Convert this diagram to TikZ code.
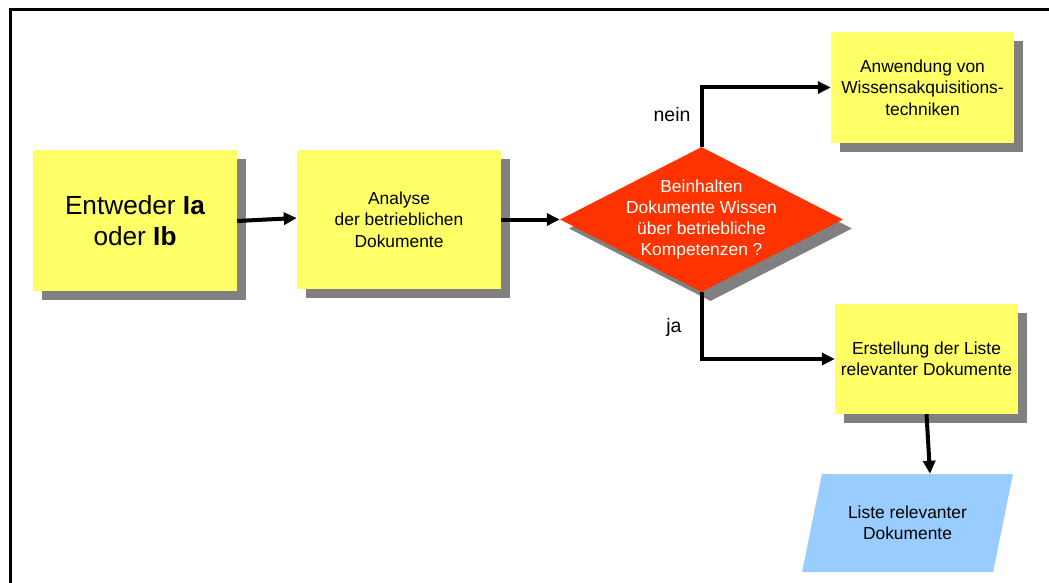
\documentclass[tikz,border=0pt]{standalone}
\usepackage{fontspec}
\setmainfont{Liberation Sans}
\usetikzlibrary{shapes.geometric,shadows,arrows.meta,calc}
\definecolor{boxyellow}{HTML}{FFFF66}
\definecolor{shadowgray}{HTML}{808080}
\definecolor{decred}{HTML}{FF3300}
\definecolor{docblue}{HTML}{99CCFF}
\begin{document}
\begin{tikzpicture}[x=1pt,y=-1pt,
  boxshadow/.style={drop shadow={shadow xshift=9pt, shadow yshift=-9pt, fill=shadowgray, opacity=1}},
  stepbox/.style={fill=boxyellow, inner sep=0pt, align=center,
    font=\fontsize{17.4}{21.5}\selectfont, boxshadow},
  decision/.style={diamond, fill=decred, inner sep=0pt, minimum width=283pt,
    minimum height=145pt, boxshadow},
  dectext/.style={text=white, align=center, font=\fontsize{17.4}{21.3}\selectfont},
  docshape/.style={trapezium, trapezium stretches=true, trapezium left angle=67.8,
    trapezium right angle=112.2, fill=docblue, inner sep=0pt, align=center,
    minimum width=211pt, minimum height=98pt, font=\fontsize{17.4}{21}\selectfont},
  lbl/.style={font=\fontsize{19.5}{22}\selectfont},
  flow/.style={line width=4pt, -{Triangle[length=13pt,width=12pt]}},
  frame/.style={line width=3.5pt}]
\useasboundingbox (0,0) rectangle (1049,583);

% outer frame (top and left edges)
\draw[frame] (1060,9.5) -- (10.5,9.5) -- (10.5,600);

% process steps
\node[stepbox, minimum width=204pt, minimum height=141pt,
      font=\fontsize{26.2}{31}\selectfont] (start) at (135,220.5)
      {Entweder \textbf{Ia}\\oder \textbf{Ib}};
\node[stepbox, minimum width=204pt, minimum height=139pt] (ana) at (399,219.5)
      {Analyse\\der betrieblichen\\Dokumente};
\node[decision] (dec) at (701.5,219.5) {};
\node[dectext] (dectxt) at (dec.center)
      {Beinhalten\\Dokumente Wissen\\über betriebliche\\Kompetenzen ?};
\node[stepbox, minimum width=183pt, minimum height=111pt] (anw) at (922.5,87.5)
      {Anwendung von\\Wissensakquisitions-\\techniken};
\node[stepbox, minimum width=183pt, minimum height=110pt] (erst) at (926.5,359)
      {Erstellung der Liste\\relevanter Dokumente};
\node[docshape] (liste) at (907.5,523) {Liste relevanter\\Dokumente};

% branch labels
\node[lbl] (nein) at (672,115) {nein};
\node[lbl] (ja) at (674,327) {ja};

% connectors
\draw[flow] ($(start.east)+(0,0.5)$) -- ($(ana.west)+(0,-1.5)$);
\draw[flow] (ana.east) -- (dec.west);
\draw[flow] (dec.north) |- (anw.west);
\draw[flow] (dec.south) |- (erst.west);
\draw[flow] (erst.south) -- ($(liste.north)+(22.5,0)$);
\end{tikzpicture}
\end{document}
